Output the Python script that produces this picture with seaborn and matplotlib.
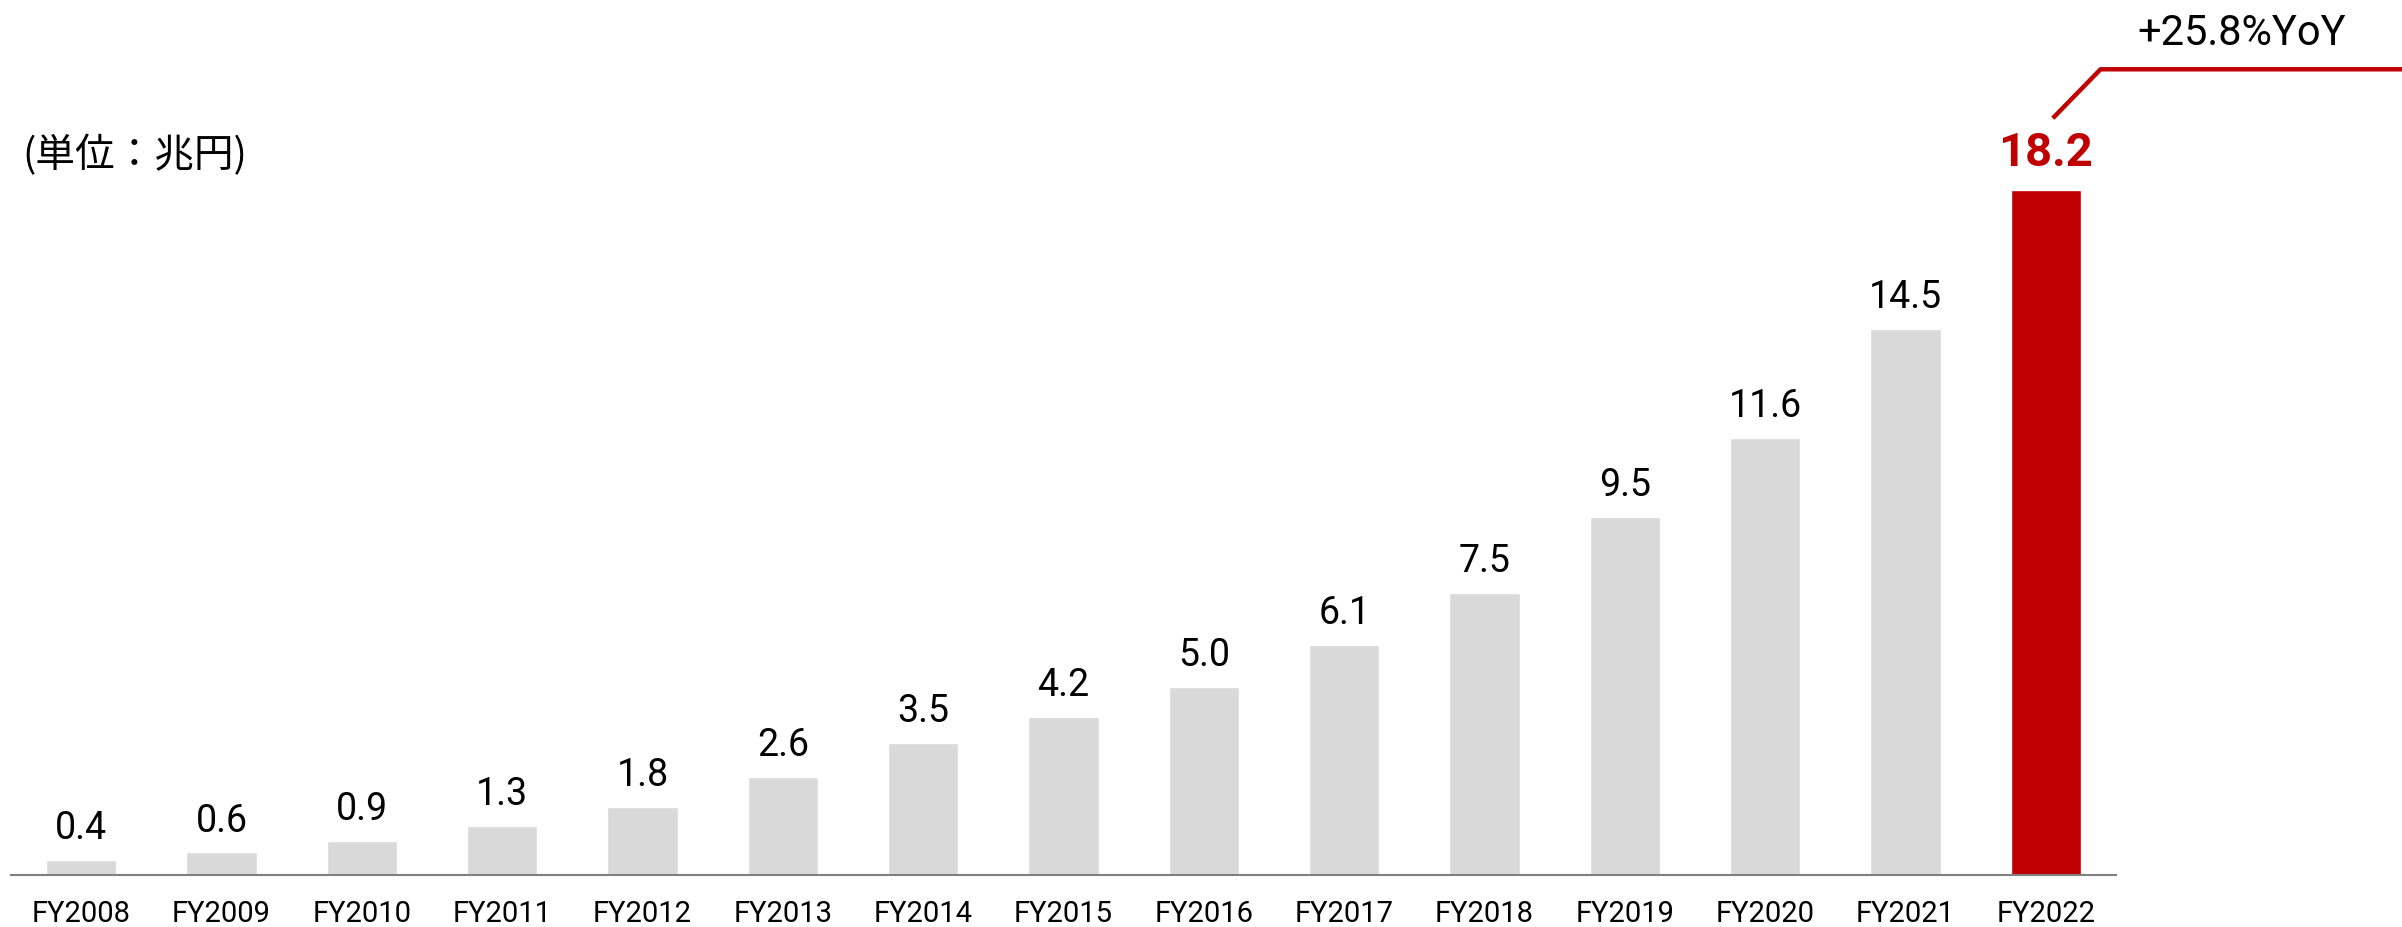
# se importan las librerías que se utilizarán
import pandas as pd
import matplotlib
matplotlib.use('Agg')
import matplotlib.pyplot as plt
import seaborn as sns

# datos del gráfico
years = ['FY2008', 'FY2009', 'FY2010', 'FY2011', 'FY2012', 'FY2013', 'FY2014', 'FY2015',
         'FY2016', 'FY2017', 'FY2018', 'FY2019', 'FY2020', 'FY2021', 'FY2022']
values = [0.4, 0.6, 0.9, 1.3, 1.8, 2.6, 3.5, 4.2, 5.0, 6.1, 7.5, 9.5, 11.6, 14.5, 18.2]
unit_label = '(単位：兆円)'
yoy_label = '+25.8%YoY'

GREY = '#D9D9D9'
RED = '#C00000'

sns.set_theme(style='white')
plt.rcParams['font.family'] = ['Roboto', 'Noto Sans CJK JP', 'DejaVu Sans']

df = pd.DataFrame({'year': years, 'value': values})
palette = {y: GREY for y in years}
palette[years[-1]] = RED

fig = plt.figure(figsize=(24.02, 9.27), dpi=100)
ax = fig.add_axes([11 / 2402, 52 / 927, 2105 / 2402, 875 / 927])

sns.barplot(data=df, x='year', y='value', hue='year', palette=palette,
            width=0.5, legend=False, saturation=1, ax=ax)

ax.set_xlim(-0.5, len(years) - 0.5)
ax.set_ylim(0, 23.24)

# etiquetas de valor
for i, v in enumerate(values):
    if i == len(values) - 1:
        ax.annotate(f'{v:.1f}', (i, v), xytext=(0, 17), textcoords='offset points',
                    ha='center', va='baseline', fontsize=34, fontweight='bold', color=RED)
    else:
        ax.annotate(f'{v:.1f}', (i, v), xytext=(0, 15), textcoords='offset points',
                    ha='center', va='baseline', fontsize=27, color='black')

# ejes
for s in ['top', 'right', 'left']:
    ax.spines[s].set_visible(False)
ax.spines['bottom'].set_color('#808080')
ax.spines['bottom'].set_linewidth(1.5)
ax.set_yticks([])
ax.set_xlabel('')
ax.set_ylabel('')
ax.tick_params(axis='x', length=0, pad=18, labelsize=21, labelcolor='black')

# línea de crecimiento
n = len(values) - 1
ax.plot([n + 0.05, n + 0.39, n + 2.6], [20.1, 21.4, 21.4], color=RED, lw=3.2,
        clip_on=False, solid_capstyle='butt')
fig.text(2137 / 2402, 1 - 45 / 927, yoy_label, fontsize=30, color='black',
         ha='left', va='baseline')

# unidad
fig.text(22 / 2402, 1 - 156 / 927, unit_label, fontsize=28.5, color='black',
         ha='left', va='center', family=['Noto Sans CJK JP', 'DejaVu Sans'])

plt.savefig('out.png', dpi=100, facecolor='white')
